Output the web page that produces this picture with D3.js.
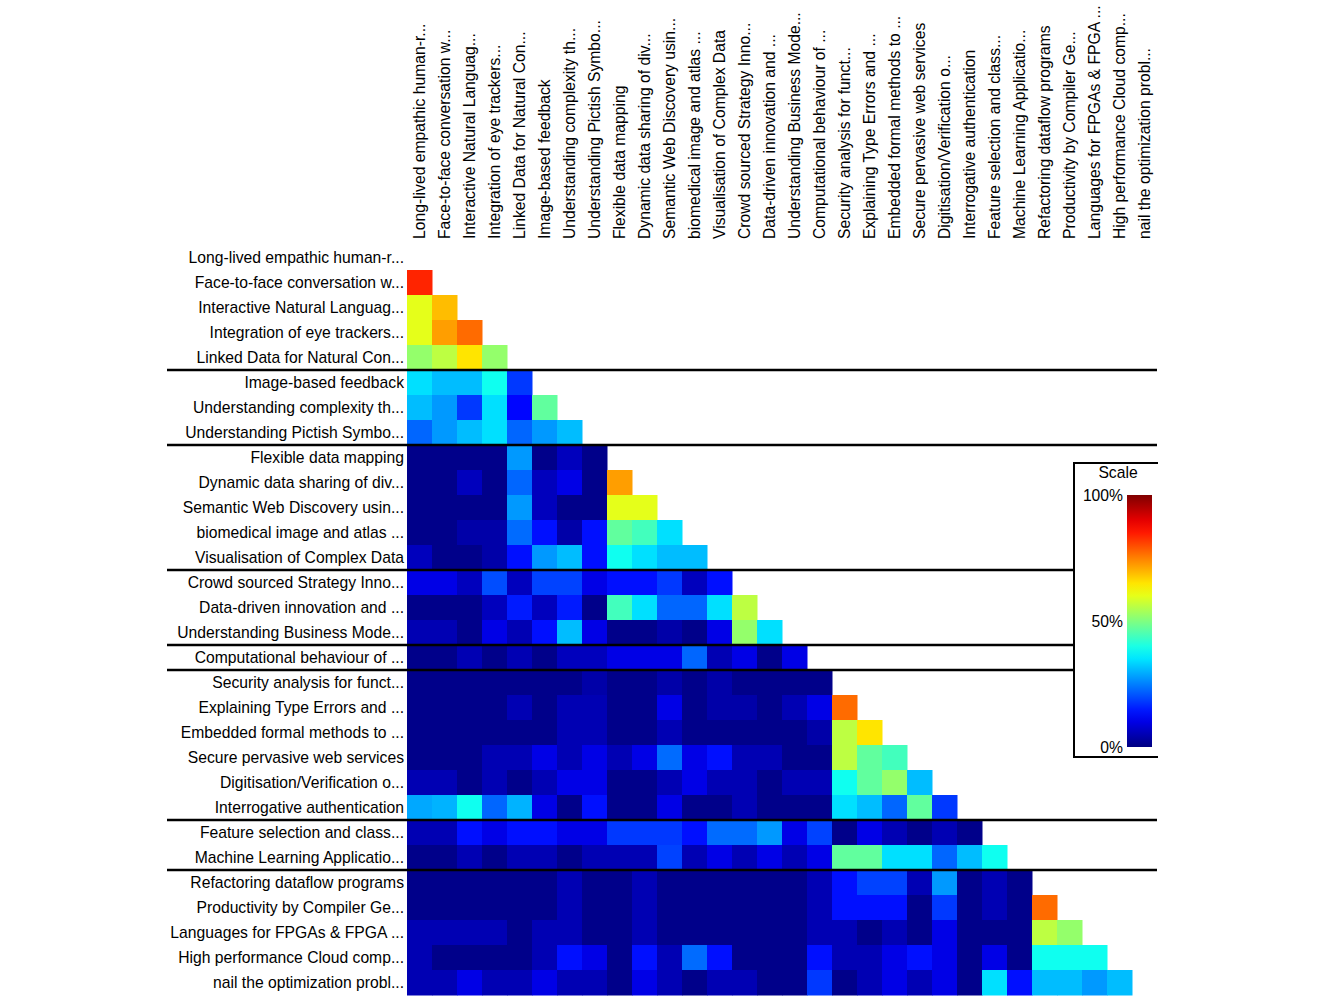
<!DOCTYPE html>
<html><head><meta charset="utf-8">
<script src="https://cdn.jsdelivr.net/npm/d3@7"></script>
<style>body{margin:0;background:#fff}svg{display:block}text{font-family:"Liberation Sans",Arial,sans-serif;fill:#000}</style>
</head><body>
<svg id="c" width="1325" height="1000"></svg>
<script>
const labels = [
"Long-lived empathic human-r...","Face-to-face conversation w...","Interactive Natural Languag...","Integration of eye trackers...","Linked Data for Natural Con...",
"Image-based feedback","Understanding complexity th...","Understanding Pictish Symbo...",
"Flexible data mapping","Dynamic data sharing of div...","Semantic Web Discovery usin...","biomedical image and atlas ...","Visualisation of Complex Data",
"Crowd sourced Strategy Inno...","Data-driven innovation and ...","Understanding Business Mode...",
"Computational behaviour of ...",
"Security analysis for funct...","Explaining Type Errors and ...","Embedded formal methods to ...","Secure pervasive web services","Digitisation/Verification o...","Interrogative authentication",
"Feature selection and class...","Machine Learning Applicatio...",
"Refactoring dataflow programs","Productivity by Compiler Ge...","Languages for FPGAs & FPGA ...","High performance Cloud comp...","nail the optimization probl..."
];
// similarity of row i with columns 0..i-1 (fraction 0..1)
const values = [
[],
[0.84],
[0.60,0.69],
[0.60,0.72,0.77],
[0.52,0.56,0.65,0.52],
[0.345,0.31,0.31,0.39,0.18],
[0.31,0.275,0.18,0.345,0.13,0.47],
[0.225,0.275,0.31,0.345,0.225,0.275,0.31],
[0.01,0.01,0.01,0.01,0.275,0.01,0.06,0.01],
[0.01,0.01,0.06,0.01,0.225,0.06,0.10,0.01,0.72],
[0.01,0.01,0.01,0.01,0.275,0.06,0.01,0.01,0.60,0.60],
[0.01,0.01,0.04,0.04,0.23,0.14,0.04,0.14,0.47,0.44,0.345],
[0.06,0.01,0.01,0.04,0.14,0.275,0.31,0.14,0.39,0.345,0.31,0.31],
[0.10,0.10,0.06,0.20,0.06,0.19,0.19,0.10,0.14,0.14,0.18,0.06,0.14],
[0.01,0.01,0.01,0.06,0.15,0.06,0.15,0.01,0.44,0.345,0.225,0.225,0.345,0.56],
[0.05,0.05,0.01,0.10,0.05,0.14,0.31,0.10,0.01,0.01,0.04,0.01,0.10,0.52,0.345],
[0.01,0.01,0.05,0.01,0.05,0.01,0.06,0.06,0.10,0.10,0.10,0.225,0.05,0.10,0.01,0.10],
[0.01,0.01,0.01,0.01,0.01,0.01,0.01,0.04,0.01,0.01,0.04,0.01,0.04,0.01,0.01,0.01,0.01],
[0.01,0.01,0.01,0.01,0.05,0.01,0.05,0.05,0.01,0.01,0.10,0.01,0.04,0.04,0.01,0.05,0.10,0.77],
[0.01,0.01,0.01,0.01,0.01,0.01,0.05,0.05,0.01,0.01,0.05,0.01,0.01,0.01,0.01,0.01,0.04,0.56,0.65],
[0.01,0.01,0.01,0.05,0.05,0.10,0.05,0.10,0.05,0.10,0.23,0.10,0.14,0.05,0.05,0.01,0.01,0.56,0.47,0.44],
[0.05,0.05,0.01,0.05,0.01,0.05,0.10,0.10,0.01,0.01,0.05,0.10,0.05,0.05,0.01,0.05,0.05,0.39,0.47,0.52,0.31],
[0.29,0.30,0.39,0.225,0.30,0.10,0.01,0.14,0.01,0.01,0.10,0.01,0.01,0.05,0.01,0.01,0.01,0.345,0.31,0.225,0.47,0.18],
[0.05,0.05,0.14,0.10,0.14,0.14,0.10,0.10,0.18,0.18,0.18,0.14,0.23,0.23,0.275,0.10,0.19,0.01,0.10,0.05,0.01,0.05,0.01],
[0.01,0.01,0.05,0.01,0.05,0.05,0.01,0.05,0.05,0.05,0.19,0.05,0.10,0.05,0.10,0.05,0.10,0.47,0.47,0.345,0.345,0.225,0.31,0.39],
[0.01,0.01,0.01,0.01,0.01,0.01,0.05,0.01,0.01,0.05,0.01,0.01,0.01,0.01,0.01,0.01,0.05,0.14,0.19,0.19,0.05,0.275,0.01,0.05,0.01],
[0.01,0.01,0.01,0.01,0.01,0.01,0.05,0.01,0.01,0.05,0.01,0.01,0.01,0.01,0.01,0.01,0.05,0.14,0.14,0.14,0.01,0.18,0.01,0.05,0.01,0.77],
[0.05,0.05,0.05,0.05,0.01,0.05,0.05,0.01,0.01,0.05,0.01,0.01,0.01,0.01,0.01,0.01,0.05,0.05,0.01,0.05,0.01,0.10,0.01,0.01,0.01,0.56,0.52],
[0.05,0.01,0.01,0.01,0.01,0.05,0.14,0.10,0.01,0.14,0.05,0.23,0.14,0.01,0.01,0.01,0.14,0.05,0.05,0.10,0.14,0.10,0.01,0.10,0.01,0.39,0.39,0.39],
[0.05,0.05,0.10,0.05,0.05,0.10,0.05,0.05,0.01,0.10,0.05,0.01,0.05,0.05,0.01,0.01,0.18,0.01,0.05,0.10,0.05,0.10,0.01,0.345,0.14,0.31,0.31,0.275,0.31]
];
const groupStarts = [5, 8, 13, 16, 17, 23, 25];
const scaleTicks = [{v:1,t:"100%"},{v:0.5,t:"50%"},{v:0,t:"0%"}];

function jet(v){
  const c = x => Math.max(0, Math.min(1, x));
  const r = c(1.5 - Math.abs(4*v - 3)), g = c(1.5 - Math.abs(4*v - 2)), b = c(1.5 - Math.abs(4*v - 1));
  return d3.rgb(r*255, g*255, b*255).toString();
}
const color = d3.scaleSequential(jet).domain([0,1]);

const svg = d3.select("#c");
const n = labels.length;
const fs = 15.7;
const x = d3.scaleBand().domain(d3.range(n)).range([407, 1157]);
const y = d3.scaleBand().domain(d3.range(n)).range([245, 995]);

const cells = [];
values.forEach((row,i)=>row.forEach((v,j)=>cells.push({i,j,v})));
svg.append("g").selectAll("rect").data(cells).join("rect")
  .attr("x", d=>x(d.j)).attr("y", d=>y(d.i))
  .attr("width", x.bandwidth()+0.5).attr("height", y.bandwidth()+0.5)
  .attr("fill", d=>color(d.v));

// row labels
svg.append("g").selectAll("text").data(labels).join("text")
  .attr("x", 404).attr("y", (d,i)=>y(i)+y.bandwidth()/2+5.5)
  .attr("text-anchor","end").attr("font-size",fs).text(d=>d);
// column labels
svg.append("g").selectAll("text").data(labels).join("text")
  .attr("transform",(d,i)=>`translate(${x(i)+x.bandwidth()/2+5.5},239) rotate(-90)`)
  .attr("text-anchor","start").attr("font-size",fs).text(d=>d);

// group separator lines
svg.append("g").selectAll("line").data(groupStarts).join("line")
  .attr("x1",167).attr("x2",1157).attr("y1",d=>y(d)).attr("y2",d=>y(d))
  .attr("stroke","#000").attr("stroke-width",2.5);

// legend
const lg = svg.append("g");
lg.append("rect").attr("x",1074).attr("y",463).attr("width",120).attr("height",294)
  .attr("fill","#fff").attr("stroke","#000").attr("stroke-width",2);
const defs = svg.append("defs");
const grad = defs.append("linearGradient").attr("id","jg").attr("x1",0).attr("y1",1).attr("x2",0).attr("y2",0);
d3.range(0,1.0001,0.05).forEach(t=>grad.append("stop").attr("offset",t).attr("stop-color",color(t)));
const ly = d3.scaleLinear().domain([0,1]).range([747,495]);
lg.append("rect").attr("x",1127).attr("y",ly(1)).attr("width",25).attr("height",ly(0)-ly(1)).attr("fill","url(#jg)");
lg.append("text").attr("x",1118).attr("y",478).attr("text-anchor","middle").attr("font-size",fs).text("Scale");
lg.selectAll("text.t").data(scaleTicks).join("text").attr("class","t")
  .attr("x",1123).attr("y",d=>ly(d.v)+6).attr("text-anchor","end").attr("font-size",fs).text(d=>d.t);
// clip area right of 1157
svg.append("rect").attr("x",1158).attr("y",0).attr("width",200).attr("height",1000).attr("fill","#fff");
</script>
</body></html>
